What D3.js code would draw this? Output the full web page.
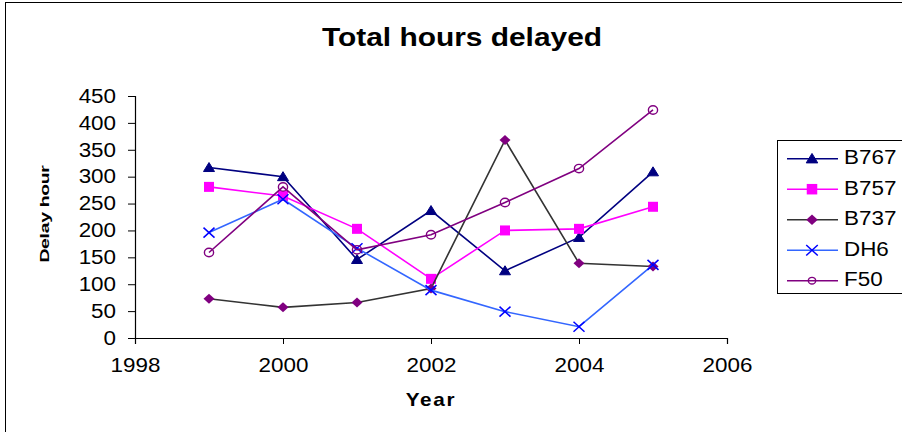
<!DOCTYPE html>
<html>
<head>
<meta charset="utf-8">
<script src="https://cdn.jsdelivr.net/npm/d3@7"></script>
<style>
  html, body { margin: 0; padding: 0; background: #fff; }
  svg { display: block; font-family: "Liberation Sans", Arial, sans-serif; }
</style>
</head>
<body>
<svg id="chart" width="902" height="432"></svg>
<script>
// Delay hours by aircraft type, 1999–2005
const years = [1999, 2000, 2001, 2002, 2003, 2004, 2005];
const b767 = [317, 300, 146, 237, 125, 187, 309];
const b757 = [281, 264, 203, 110, 200, 203, 244];
const b737 = [73, 57, 66, 92, 368, 139, 133];
const dh6  = [196, 258, 167, 89, 49, 21, 136];
const f50  = [159, 281, 164, 192, 252, 315, 424];

const xTicks = [1998, 2000, 2002, 2004, 2006];
const yTicks = [0, 50, 100, 150, 200, 250, 300, 350, 400, 450];

const series = [
  { name: "B767", values: b767, line: "#000080", fill: "#000080", stroke: "#000080", shape: "triangle" },
  { name: "B757", values: b757, line: "#FF00FF", fill: "#FF00FF", stroke: "#FF00FF", shape: "square" },
  { name: "B737", values: b737, line: "#333333", fill: "#800080", stroke: "#800080", shape: "diamond" },
  { name: "DH6",  values: dh6,  line: "#3366FF", fill: "none",    stroke: "#0000FF", shape: "cross" },
  { name: "F50",  values: f50,  line: "#800080", fill: "none",    stroke: "#800080", shape: "circle" }
];

// text in this chart is rendered slightly wide
const STRETCH = 1.15;

const svg = d3.select("#chart");

// chart frame
svg.append("rect")
  .attr("x", 5.5).attr("y", 2.5).attr("width", 920).attr("height", 460)
  .attr("fill", "#fff").attr("stroke", "#000").attr("stroke-width", 1);

const x = d3.scaleLinear().domain([1998, 2006]).range([135, 727]);
const y = d3.scaleLinear().domain([0, 450]).range([338, 96]);

// axes
const xAxis = svg.append("g")
  .attr("transform", `translate(0,${y(0)})`)
  .call(d3.axisBottom(x).tickValues(xTicks).tickFormat(d3.format("d")).tickSizeOuter(0).tickSize(6).tickPadding(14));
const yAxis = svg.append("g")
  .attr("transform", `translate(${x(1998)},0)`)
  .call(d3.axisLeft(y).tickValues(yTicks).tickSizeOuter(0).tickSize(7).tickPadding(9.5));

[xAxis, yAxis].forEach(g => {
  g.select(".domain").attr("stroke", "#000").attr("stroke-width", 1.2);
  g.selectAll(".tick line").attr("stroke", "#000");
  g.selectAll(".tick text")
    .attr("fill", "#000")
    .attr("transform", `scale(${STRETCH},1)`)
    .style("font-family", '"Liberation Sans", Arial, sans-serif')
    .style("font-size", "19.5px");
});

// symbol drawing for plot markers and legend keys
function marker(g, shape, cx, cy, s, k = 1) {
  if (shape === "triangle") {
    g.append("path").attr("d", `M${cx},${cy - 5 * k}L${cx + 5.5 * k},${cy + 4 * k}L${cx - 5.5 * k},${cy + 4 * k}Z`)
      .attr("fill", s.fill).attr("stroke", s.stroke);
  } else if (shape === "square") {
    g.append("rect").attr("x", cx - 5 * k).attr("y", cy - 5 * k).attr("width", 10 * k).attr("height", 10 * k)
      .attr("fill", s.fill);
  } else if (shape === "diamond") {
    g.append("path").attr("d", `M${cx},${cy - 5 * k}L${cx + 5.5 * k},${cy}L${cx},${cy + 5 * k}L${cx - 5.5 * k},${cy}Z`)
      .attr("fill", s.fill);
  } else if (shape === "cross") {
    g.append("path").attr("d", `M${cx - 5.5 * k},${cy - 5 * k}L${cx + 5.5 * k},${cy + 5 * k}M${cx - 5.5 * k},${cy + 5 * k}L${cx + 5.5 * k},${cy - 5 * k}`)
      .attr("stroke", s.stroke).attr("stroke-width", 1.5).attr("fill", "none");
  } else if (shape === "circle") {
    g.append("ellipse").attr("cx", cx).attr("cy", cy).attr("rx", 4.6 * k).attr("ry", 4.2 * k)
      .attr("fill", "none").attr("stroke", s.stroke).attr("stroke-width", 1.4);
  }
}

const line = d3.line().x(d => x(d[0])).y(d => y(d[1]));

series.forEach(s => {
  const pts = years.map((yr, i) => [yr, s.values[i]]);
  const g = svg.append("g");
  g.append("path").attr("d", line(pts))
    .attr("fill", "none").attr("stroke", s.line).attr("stroke-width", 1.6);
  pts.forEach(p => marker(g, s.shape, x(p[0]), y(p[1]), s));
});

// legend
const leg = svg.append("g");
leg.append("rect").attr("x", 777.5).attr("y", 140.5).attr("width", 140).attr("height", 153)
  .attr("fill", "#fff").attr("stroke", "#000");
series.forEach((s, i) => {
  const ly = 158.7 + i * 30.5;
  leg.append("line").attr("x1", 787).attr("x2", 838).attr("y1", ly).attr("y2", ly)
    .attr("stroke", s.line).attr("stroke-width", 1.6);
  marker(leg, s.shape, 812, ly, s, s.shape === "circle" ? 0.8 : 1.05);
  leg.append("text").attr("transform", `translate(844,${ly + 5.5}) scale(${STRETCH},1)`)
    .style("font-size", "19.5px").attr("fill", "#000").text(s.name);
});

// titles
svg.append("text").attr("transform", `translate(462,46) scale(${STRETCH},1)`).attr("text-anchor", "middle")
  .style("font-size", "26px").style("font-weight", "bold").text("Total hours delayed");
svg.append("text").attr("transform", `translate(431,406) scale(${STRETCH},1)`).attr("text-anchor", "middle")
  .style("font-size", "18px").style("font-weight", "bold").style("letter-spacing", "1.5px").text("Year");
// vertical axis title, drawn narrow across its height
svg.append("text").attr("transform", "translate(49,214) rotate(-90) scale(1.08,0.72)").attr("text-anchor", "middle")
  .style("font-size", "18px").style("font-weight", "bold").style("letter-spacing", "-0.3px").text("Delay hour");
</script>
</body>
</html>
